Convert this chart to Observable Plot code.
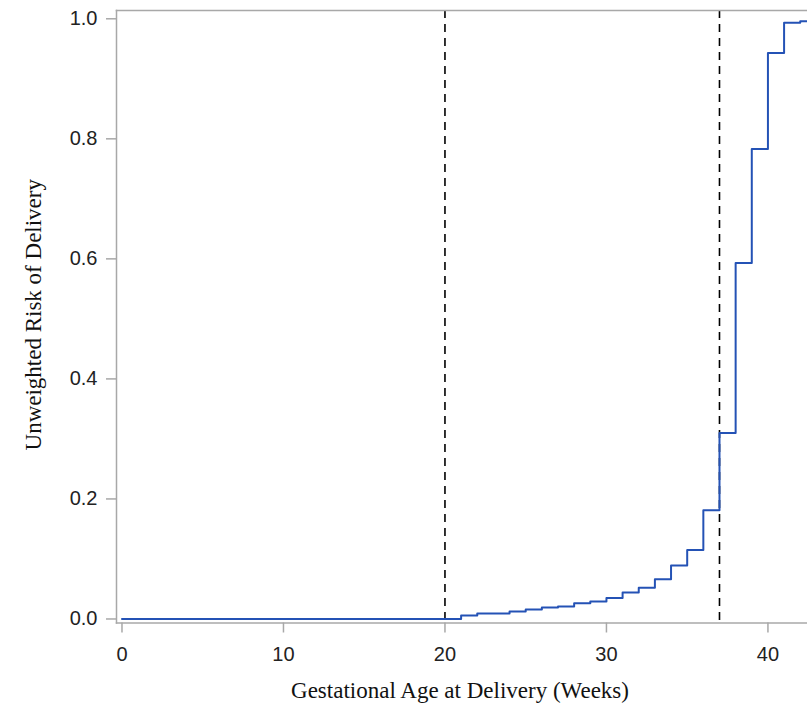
<!DOCTYPE html>
<html>
<head>
<meta charset="utf-8">
<script src="https://cdn.jsdelivr.net/npm/d3@7"></script>
<script src="https://cdn.jsdelivr.net/npm/@observablehq/plot@0.6"></script>
<style>
  html, body { margin: 0; padding: 0; background: #fff; }
  #chart svg { display: block; }
</style>
</head>
<body>
<div id="chart"></div>
<script>
// Gestational week (step starts) and cumulative unweighted risk of delivery
const weeks = [0, 20, 21, 22, 23, 24, 25, 26, 27, 28, 29, 30, 31, 32, 33, 34, 35, 36, 37, 38, 39, 40, 41, 42, 43];
const risk  = [0, 0, 0.006, 0.009, 0.009, 0.0125, 0.016, 0.019, 0.021, 0.026, 0.029, 0.035, 0.044, 0.052, 0.066, 0.089, 0.115, 0.181, 0.310, 0.593, 0.783, 0.943, 0.9935, 0.996, 0.996];
const refWeeks = [20, 37];
const xTicks = [0, 10, 20, 30, 40];
const yTicks = [0, 0.2, 0.4, 0.6, 0.8, 1.0];
const xTitle = "Gestational Age at Delivery (Weeks)";
const yTitle = "Unweighted Risk of Delivery";

const data = weeks.map((w, i) => ({week: w, risk: risk[i]}));

const axisColor = "#a8a8a8";
const tickFont = "'Liberation Sans', Arial, sans-serif";
const titleFont = "'Liberation Serif', 'Times New Roman', serif";

const chart = Plot.plot({
  width: 807,
  height: 706,
  marginLeft: 116,
  marginRight: 0,
  marginTop: 10,
  marginBottom: 83.5,
  style: {background: "#fff", fontFamily: tickFont},
  x: {domain: [-0.34, 42.45], label: null},
  y: {domain: [-0.0067, 1.0138], label: null},
  marks: [
    Plot.ruleX(refWeeks, {stroke: "#000", strokeWidth: 1.6, strokeDasharray: "8,6"}),
    Plot.line(data, {x: "week", y: "risk", curve: "step-after", stroke: "#2452b5", strokeWidth: 2, clip: true}),
    Plot.frame({anchor: "top", stroke: axisColor, strokeWidth: 1.5}),
    Plot.frame({anchor: "left", stroke: axisColor, strokeWidth: 1.5}),
    Plot.frame({anchor: "bottom", stroke: axisColor, strokeWidth: 1.5}),
    Plot.axisX({ticks: xTicks, tickSize: 10, tickPadding: 14, stroke: axisColor, strokeWidth: 1.5,
      fontSize: 20, fill: "#222", label: null, tickFormat: d => String(d)}),
    Plot.axisY({ticks: yTicks, tickSize: 10, tickPadding: 9, stroke: axisColor, strokeWidth: 1.5,
      fontSize: 20, fill: "#222", label: null, tickFormat: d => d.toFixed(1)}),
    Plot.text([xTitle], {text: d => d, frameAnchor: "bottom", dy: 67.5, dx: -2, lineAnchor: "middle",
      textAnchor: "middle", fontFamily: titleFont, fontSize: 23, fill: "#111"}),
    Plot.text([yTitle], {text: d => d, frameAnchor: "left", dx: -83, dy: -2, rotate: -90, lineAnchor: "middle",
      textAnchor: "middle", fontFamily: titleFont, fontSize: 23, fill: "#111"})
  ]
});
document.getElementById("chart").appendChild(chart);
</script>
</body>
</html>
